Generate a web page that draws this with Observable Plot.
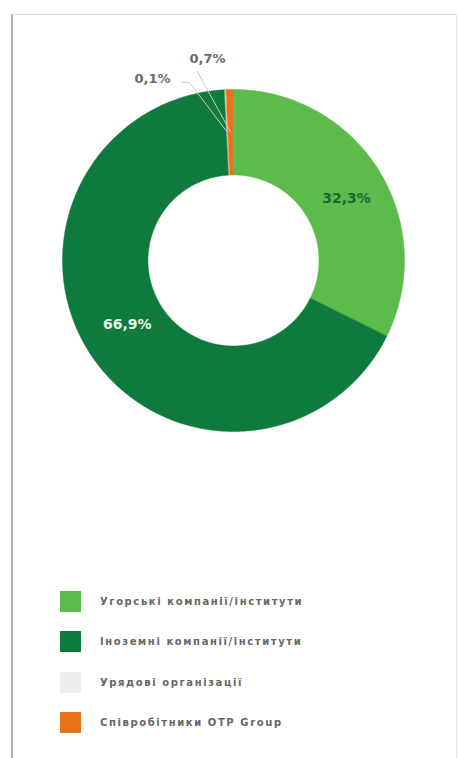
<!DOCTYPE html>
<html>
<head>
<meta charset="utf-8">
<script src="https://cdn.jsdelivr.net/npm/d3@7"></script>
<script src="https://cdn.jsdelivr.net/npm/@observablehq/plot@0.6"></script>
<style>
  html, body { margin: 0; padding: 0; background: #fff; }
  #wrap { position: relative; width: 458px; height: 758px; overflow: hidden; }
  #frame { position: absolute; left: 11px; top: 14px; width: 443px; height: 750px;
           border-left: 2px solid #b0b0b0; border-top: 1px solid #dcdcdc; border-right: 1px solid #e6e6e6; }
  #chart { position: absolute; left: 0; top: 0; }
  #legend { position: absolute; left: 60px; top: 591px; font-family: "DejaVu Sans", sans-serif; }
  .item { display: flex; align-items: center; height: 20px; margin-bottom: 20.5px; }
  .sw { width: 21px; height: 21px; margin-right: 19px; }
  .lab { font-size: 10px; font-weight: bold; color: #666; letter-spacing: 1.6px; }
</style>
</head>
<body>
<div id="wrap">
  <div id="frame"></div>
  <div id="chart"></div>
  <div id="legend"></div>
</div>
<script>
// ---- data ----
const categories = ["Угорські компанії/інститути", "Іноземні компанії/інститути", "Урядові організації", "Співробітники OTP Group"];
const values = [32.3, 66.9, 0.1, 0.7];
const valueLabels = ["32,3%", "66,9%", "0,1%", "0,7%"];

// ---- style ----
const colors = ["#5cbb4a", "#0f7a3e", "#eeeeee", "#e8711c"];
const innerRatio = 0.5;
const insideLabelColor = ["#176a33", "#eef4ee", null, null];
const insideLabelShift = [[4, 5], [1, -7], null, null];
// outside label layout (unit coords relative to donut) for small slices
const outside = {
  2: {text: [-0.474, 1.064], leader: [[-0.304, 1.041], [-0.257, 1.041]]},
  3: {text: [-0.152, 1.181], leader: [[-0.211, 1.105]]}
};

const pie = d3.pie().sort(null).value(d => d)(values);

// slice polygons
const poly = [];
pie.forEach((p, i) => {
  const deg = (p.endAngle - p.startAngle) * 180 / Math.PI;
  const n = Math.max(2, Math.ceil(deg / 0.5));
  const pts = [];
  for (let k = 0; k <= n; k++) {
    const a = p.startAngle + (p.endAngle - p.startAngle) * k / n;
    pts.push({x: Math.sin(a), y: Math.cos(a)});
  }
  for (let k = n; k >= 0; k--) {
    const a = p.startAngle + (p.endAngle - p.startAngle) * k / n;
    pts.push({x: innerRatio * Math.sin(a), y: innerRatio * Math.cos(a)});
  }
  pts.forEach(pt => poly.push({...pt, cat: categories[i]}));
});

const midR = (1 + innerRatio) / 2;
const centroid = p => {
  const a = (p.startAngle + p.endAngle) / 2;
  return [midR * Math.sin(a), midR * Math.cos(a)];
};

const insideTexts = pie.map((p, i) => ({i, c: centroid(p)})).filter(d => insideLabelColor[d.i])
  .map(d => ({x: d.c[0], y: d.c[1], label: valueLabels[d.i], color: insideLabelColor[d.i],
              dx: insideLabelShift[d.i][0], dy: insideLabelShift[d.i][1]}));

const outsideTexts = Object.keys(outside).map(k => ({x: outside[k].text[0], y: outside[k].text[1], label: valueLabels[k]}));

const leaders = [];
Object.keys(outside).forEach(k => {
  const c = centroid(pie[k]);
  outside[k].leader.forEach(pt => leaders.push({x: pt[0], y: pt[1], k}));
  leaders.push({x: c[0], y: c[1], k});
});

const chart = Plot.plot({
  width: 458,
  height: 520,
  margin: 0,
  x: {domain: [-1, 1], range: [62, 404], axis: null},
  y: {domain: [-1, 1], range: [431, 89], axis: null},
  color: {domain: categories, range: colors},
  marks: [
    Plot.line(poly, {x: "x", y: "y", z: "cat", fill: "cat", stroke: "cat", strokeWidth: 0.5, curve: "linear-closed"}),
    Plot.line(leaders, {x: "x", y: "y", z: "k", stroke: "#dcc4c4", strokeWidth: 1}),
    ...insideTexts.map(d => Plot.text([d], {x: "x", y: "y", text: "label", fill: d.color, dx: d.dx, dy: d.dy + 1,
      fontSize: 14, fontWeight: "bold", fontFamily: "DejaVu Sans, sans-serif"})),
    Plot.text(outsideTexts, {x: "x", y: "y", text: "label", fill: "#6a6a6a", fontSize: 13, fontWeight: "bold", fontFamily: "DejaVu Sans, sans-serif"})
  ]
});
document.getElementById("chart").appendChild(chart);

const legend = document.getElementById("legend");
categories.forEach((c, i) => {
  const item = document.createElement("div");
  item.className = "item";
  const sw = document.createElement("div");
  sw.className = "sw";
  sw.style.background = colors[i];
  const lab = document.createElement("div");
  lab.className = "lab";
  lab.textContent = c;
  item.appendChild(sw);
  item.appendChild(lab);
  legend.appendChild(item);
});
</script>
</body>
</html>
